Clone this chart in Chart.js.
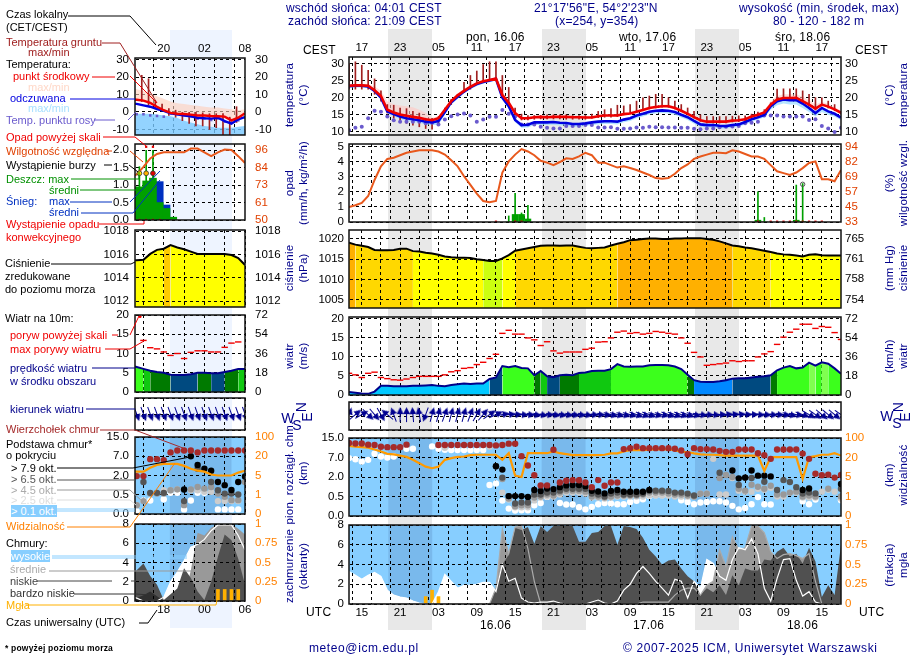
<!DOCTYPE html>
<html lang="pl">
<head>
<meta charset="utf-8">
<title>Meteogram</title>
<script src="https://cdn.jsdelivr.net/npm/chart.js@4/dist/chart.umd.js"></script>
<style>
  html, body { margin: 0; padding: 0; background: #fff; }
  #page { position: relative; width: 910px; height: 660px; overflow: hidden; font: 12px "Liberation Sans", Arial, sans-serif; }
  #page canvas { position: absolute; }
  .band { position: absolute; }
  .txt { position: absolute; white-space: pre; transform: translateY(-50%); letter-spacing: .2px; }
  .rot { position: absolute; white-space: pre; text-align: center; transform: translate(-50%, -50%) rotate(-90deg); color: #00008b; font-size: 11.5px; line-height: 14px; letter-spacing: .2px; }
  svg { position: absolute; left: 0; top: 0; }
</style>
</head>
<body>
<div id="page"></div>
<script>
const _ = null;

// ─── TIME AXES (hours UTC counted from 15.06 00:00) ─────────────
const startHour = 13;
const gridHoursR = [15, 18, 21, 24, 27, 30, 33, 36, 39, 42, 45, 48, 51, 54, 57, 60, 63, 66, 69, 72, 75, 78, 81, 84, 87];
const labelHoursR = [15, 21, 27, 33, 39, 45, 51, 57, 63, 69, 75, 81, 87];
const cestLabelsR = ['17', '23', '05', '11', '17', '23', '05', '11', '17', '23', '05', '11', '17'];
const utcLabelsR = ['15', '21', '03', '09', '15', '21', '03', '09', '15', '21', '03', '09', '15'];
const gridHoursL = [15, 18, 21, 24, 27, 30];
const labelHoursL = [18, 24, 30];
const cestLabelsL = ['20', '02', '08'];
const utcLabelsL = ['18', '00', '06'];
const nightsR = [[19.15, 26.02], [43.15, 50.02], [67.15, 74.02]];
const nightsL = [[18.9, 28]];

// ─── MAIN PANELS (one value per hour) ───────────────────────────
const tempMid = [23.5,23.6,23.6,23.5,22.2,20.5,16.5,15.7,15.1,14.7, 14.4,14.1,13.7,13.4,14,16.5,19,20.7,22,23.2, 24.2,24.8,25.2,25.6,20.8,18.5,15.5,14,14,14.3, 14.4,14.3,14.4,14.4,14.4,14.3,14.3,14.2,14.2,14.6, 14.8,14.8,14.8,15.2,15.4,15.9,16.4,17,17.3,17.5, 17.5,17,16.2,15.3,14.3,13.4,13,13,13,13, 13.3,13.4,13.7,14.5,15,15.7,18,19.5,19.9,19.9, 20,19,18,16.8,18,17.4,16.6,15.6];
const tempFeel = [23.4,23.5,23.5,23.3,22,20,16,15.2,14.5,14, 13.7,13.4,13,12.8,13.2,15.8,18.7,20.3,21.8,23, 24,24.6,25,25.5,20,17.5,13.5,12,12.1,12.8, 12.8,12.8,12.9,12.7,12.6,12.3,12.3,12.5,12.8,13, 13.1,13.1,13,13.6,14,14.8,15.3,15.9,16.2,16.3, 16.2,15.8,15,14.3,13.2,12.2,12,12,11.8,11.7, 12,12.2,12.9,13.7,14.3,15,17.5,19,19.5,19.3, 19.3,18.3,17,15.5,17,16,15.3,14.2];
const tempDew = [10.5,11.2,11.5,14,16.2,15.9,14.5,13.4,13,13, 13,13,12.5,12.7,12.2,13.6,14.6,15.1,15.4,14.8, 13,13.6,14.4,14.4,16.4,15.3,14.4,12.2,12.2,12.2, 11.5,11.2,11,11,11.7,11.7,11.7,12,12,11.3, 11.3,11.4,10.9,10.9,11,11.3,11.2,11.5,11.4,11.4, 11.3,11.3,11.2,11.2,10.9,10.8,11,11,11.4,11.5, 11.6,11.7,12.5,12.7,13,14.8,14.8,14.8,14.5,14.5, 14.5,14.5,13.5,13.7,11.7,11,10,11.2];
const soilMax = [30,30.5,29.5,28,25.5,22,18,17.8,17,16.8, 16,15.5,14,14,14.5,17,19.5,21,24.5,26.5, 27.8,29.7,30.5,30.5,26.5,23,17,15.2,14.8,14.8, 14.8,15,15,15,15,14.8,14.8,14.8,15.2,16, 16.5,16.8,17.8,17.6,18,19,20,20.5,21,21, 20,19,18,17,16,15,14.5,14.5,14.5,14.5, 14.6,14.7,14.7,15.2,15.8,16.5,18.5,22.5,22.6,22.6, 22.6,22,21,20,20,19,18,16];
const soilMin = [22.5,22.5,22.5,22.5,21,19,15.5,14,13.2,12.5, 12,11.5,11,10.8,12.5,16,18,20,21.5,22.5, 24,24.5,25,25,20,18,14.5,13.5,13.5,13.7, 13.8,13.8,13.8,13.8,13.7,13.7,13.7,13.7,14,14.2, 14.3,14.3,14.5,15,15.3,15.8,16.3,16.7,17,17.2, 17.2,16.7,16,15,14,13.1,12.6,12.6,12.6,12.6, 12.9,13,13.3,14,14.5,15.3,17.5,19.2,19.6,19.6, 19.6,18.7,17.6,16.4,17.6,17,16.2,15.2];
const tempTop = [24,24,24,24,23.3,22,19,18,17.7,17.5, 17.2,16.5,15.5,14.2,14.5,17,19.5,21.2,22.6,23.8, 24.6,25.2,25.6,26,22,19,15.8,14.4,14.4,14.7, 14.8,14.7,14.8,14.8,14.8,14.7,14.7,14.6,14.6,15, 15.2,15.2,15.2,15.6,15.8,16.3,16.8,17.4,17.7,18, 18,17.5,16.7,15.8,14.8,13.8,13.4,13.4,13.4,13.4, 13.7,13.8,14.1,14.9,15.4,16.1,19,20.5,21,21, 21,20.3,19.3,18,18.8,18.2,17.3,16.2];
const feelBottom = [23,23,23,22.8,21.5,19.4,15.5,14.5,13.8,13.3, 13,12.7,12.2,12,12,15,18,19.7,21.3,22.5, 23.4,24.1,24.5,25,19.4,16.8,12.8,11.2,11.3,12, 12,12,12.1,11.9,11.8,11.5,11.5,11.7,12,12.2, 12.3,12.3,12.2,12.8,13.2,14,14.5,15.1,15.4,15.5, 15.4,15,14.2,13.5,12.4,11.5,11.3,11.2,11,11, 11.2,11.5,12.2,13,13.6,14.2,16.5,17.8,18.3,18, 18,17,15.8,14.5,15.8,15,14.4,13.4];
const humidity = [45,46.6,48.5,54,67,78,84,85,87,89, 90,91,91,91,90,87.5,83,78,70,63, 56,50,49,50,73,82,87.5,92,90,87, 82.5,81,79,81.5,84.5,84,86,89,87,81, 81,79,77,78,76.6,75,73,71,68.5,68, 68.5,72,76.6,79.5,84,86,87.5,89,89,88.6, 91,90,88,86,86,84,79,74,72.5,71, 73,76.6,80.7,82,67.6,67.6,66,75];
const rainHours = [38, 39, 40, 41, 77, 78, 83, 84];
const rainMean = [0, 0.5, 0.5, 0.2, 0.12, 0, 0.12, 0.03];
const rainMax = [0.4, 1.9, 0.6, 1.1, 2, 0.3, 2.45, 2.55];
const convHours = [36, 39, 40, 77, 79, 80, 81, 82, 83, 84, 85, 86, 87];
const stormHours = [84];
const stormLevel = [2.5];
const pressure = [1019.1,1018.6,1018.3,1018,1017.3,1017.2,1017.2,1017.3,1017.6,1017.6, 1017,1016.9,1016.6,1016.4,1016.1,1015.7,1015.5,1015.4,1015.4,1015.3, 1015,1014.8,1014.6,1014.6,1015.2,1016,1017.1,1017.4,1017.7,1018, 1018.3,1018.4,1018.4,1018.3,1018.4,1018.4,1018.1,1017.8,1017.7,1017.8, 1017.9,1018.4,1018.8,1019.2,1019.7,1019.8,1020,1020.1,1020.1,1020, 1020,1020.1,1020.1,1020.2,1020.2,1020.2,1020,1019.8,1019.4,1018.9, 1018.4,1018.2,1017.9,1017.7,1017.4,1017.1,1016.8,1016.4,1016.2,1016.1, 1015.9,1015.7,1016.1,1016.2,1016,1015.9,1015.9,1015.9];
const windSpeed = [0.8,0.6,0.4,0.3,0.9,2.4,2.4,2.3,2.3,2.3, 2.4,2.4,2.5,2.6,2.4,2.3,2.6,2.8,3,2.9, 3,3,4.2,4.6,7.6,7.3,7.6,7.1,7,5.2, 6.3,4.9,4.7,5.2,5.3,5.2,5.8,5.9,6.3,6.4, 6.4,6.8,8.1,7.5,7.4,7.5,7.5,7.8,7.9,7.9, 7.8,7.5,6.8,5.3,3.9,3.5,3.4,3.4,3.6,3.9, 4.3,4.4,4.4,4.6,4.8,4.9,5.2,6.5,7.2,7.6, 7,7.2,8.5,7.7,8.6,8.2,7,5.6];
const windGust = [5.7,5.3,4.6,5.7,6,4.6,4.3,4,3.9,4.2, 4.6,4.9,4.9,4.9,4.9,5.3,6.1,6.4,7,7.2, 8,8.6,9.6,10.7,16.2,17,16,16,15,14.5, 13,14,11.6,11,11.3,11.3,11.3,12,12.3,13.9, 14,15,16.5,16.8,16.2,16.4,16,16.2,16.7,16.5, 16.2,16,15,13.6,11.2,10,7.8,8,8.2,8.4, 9,8.8,9,9,10,10.8,11.4,13.3,15.2,16.5, 17.3,18.6,18.6,17.5,18,17.8,16.4,14.6];
const windHeading = [20,50,60,135,140,150,310,340,0,0, 355,350,200,15,15,20,15,15,15,20, 30,40,55,65,80,85,90,95,95,100, 100,95,100,100,100,100,100,100,95,95, 100,105,105,105,105,110,110,110,105,105, 110,110,110,110,105,100,95,95,90,85, 85,85,90,90,95,95,95,95,100,105, 100,110,120,125,130,130,130,125];

// Cloud base and visibility are given in steps of their uneven axes (0=0, 1=0.5, 2=2, 3=7, 4=15 km)
const baseTop = [3.74,3.72,3.72,3.66,3.64,3.55,3.53,3.53,3.53,3.66, _,_,_,_,3.64,3.64,3.64,3.64,3.64,3.64, 3.64,3.64,3.64,3.62,3.64,3.71,3.71,3.07,2.59,2.09, 1.57,1.57,3.4,1.72,1.81,1.84,1.83,1.72,1.48,1.84, 1.55,1.72,1.72,3.43,3.48,3.55,3.48,3.48,3.48,3.48, 3.48,3.45,3.36,3.17,3.48,3.43,3.43,3.41,3.34,3.29, 3.29,3.41,3.41,3.41,3.22,3.12,2.93,3.41,3.41,3.41, 3.41,3.2,2.93,2.17,2.09,2.12,1.97,2.1];
const base79 = [_,_,_,_,_,_,_,_,_,_, _,_,_,_,_,_,_,_,_,_, _,_,_,2.55,2.38,1.02,1.02,1.02,0.98,1.33, 1.28,1.41,1.38,1.48,1.57,1.59,1.59,1.53,1.29,1.26, 1.16,1.29,1.33,1.24,1.24,1.24,1.24,1.33,_,_, _,_,_,_,_,_,_,_,_,_, 2.33,1.93,1.97,2.33,2.07,2.07,2.03,_,_,_, _,1.33,1.41,_,_,_,_,1.64];
const base65 = [_,_,_,_,_,_,_,_,_,_, _,_,_,_,_,_,_,_,_,_, _,_,_,2.55,1.97,1.02,0.64,0.69,0.69,1.1, 1.1,1.2,1.2,1.3,1.4,1.4,1.4,1.4,1.15,1.1, 1,1.15,1.2,1.1,1.1,1.1,1.15,1.3,1.3,1.3, 1.28,1.2,1.2,1.15,1.05,_,_,_,2.22,_, _,1.59,1.97,1.95,_,1.76,_,1.33,1.84,1.74, 1.48,1.15,1.2,1.16,_,_,_,1.4];
const base45 = [_,_,_,_,_,_,_,_,_,_, _,_,_,_,_,_,_,_,_,_, _,_,_,_,1.9,0.9,0.5,0.55,0.55,0.95, 1,1.1,1.05,1.2,1.3,1.3,1.3,1.25,1,1, 0.95,1,1.05,1.05,1.05,1.05,1.1,1.2,1.2,1.2, 1.15,1.1,1.1,1.05,1,1.15,1.15,_,1.95,2.1, 2,1.4,1.3,1.6,1.5,1.4,1.55,1.1,1.1,1.2, 1.25,1,1.05,1,_,1.4,_,1];
const base25 = [_,_,_,_,_,_,_,_,_,_, _,_,_,_,_,3.5,_,_,_,_, _,_,3.55,_,1.2,0.85,0.45,0.45,0.45,0.8, 0.95,1,1,1.1,1.2,1.2,1.2,1.15,0.95,0.95, 0.9,0.95,1,1,1,1,1,1.05,1.05,1.05, 1.05,1,1,1,1,1.15,1.15,2.93,1.1,1.1, 1.95,1.3,1.25,1.25,1.4,1.35,1.45,1,1,1.2, 1.2,0.95,0.95,0.95,1.25,1.35,1.25,0.9];
const base01 = [2.97,2.91,2.79,2.88,3.19,3.05,3,3.05,_,3.45, 3.45,_,_,3.57,3.45,3.4,3.38,3.38,3.38,3.38, 3.38,3.38,1.59,1.67,0.79,0.38,0.28,0.29,0.29,0.55, 0.67,0.98,1.03,0.67,0.59,0.59,0.45,0.34,0.47,0.6, 0.67,0.64,0.6,0.6,0.72,0.78,0.86,1.03,1.07,1.07, 1.07,1.07,0.81,0.72,0.6,0.69,0.72,0.76,0.76,0.69, 0.52,0.34,0.41,0.6,0.97,0.6,0.59,1.07,_,_, _,0.76,0.6,0.84,_,_,_,0.81];
const visibility = [3.59,3.55,3.53,3.5,3.41,3.31,3.19,3.16,3.1,3.03, 2.88,2.71,2.53,2.45,2.53,2.88,2.97,3.03,3.05,3.12, 3.14,3.14,3.14,3.14,2.88,3.22,2.07,2,3.22,3.22, 3.22,3.22,3.31,3.22,3.17,3.12,3.12,3.12,3.12,3.12, 3.14,3.21,3.21,3.31,3.38,3.38,3.38,3.4,3.41,3.41, 3.41,3.38,3.29,3.28,3.21,3.16,3.14,3.14,3.12,3.1, 3.1,3.1,3.1,3.1,3.1,2.31,3.02,3.02,3.02,3.02, 3.02,1.9,3.02,3.07,3.14,3.14,3.22,3.1];
const cloudHigh = [3.3,2.9,2.5,2.9,3.2,2.8,1.4,0.9,0.7,0.6, 0.3,0.1,0,0,1.25,3,2.3,1.6,1.9,1.9, 2,2.2,2.2,1.25,4,2.3,2.6,0.6,0.2,0.1, 0.2,0.2,0.3,0.1,0,0,0,0,0.2,0.4, 0.1,0,0.3,1.4,2,3.1,3.8,3.1,2.3,1.6, 0.9,2.5,2.3,0.6,2.3,1.6,4.5,4.1,2.8,2.4, 4.5,5.7,5.5,6.6,5.1,1.6,0.3,2.6,4.5,4.6, 2.4,0.8,1.25,0.2,0,0,0,0];
const cloudMid = [0,0,0,0,0,0,0,0,0,0, 0,0,0,0,0,0,0,0,0,0, 0,0,0,1.6,7.6,5.1,7.8,7.9,5.6,2.3, 0,0,0,0,0,0,0,0,0,0, 0,0,0,0,0,0,0.2,0.2,0.2,0.2, 0.2,0.9,1.4,1.6,1.6,0.9,1.9,2.3,5.5,3.8, 6.8,5.5,5.7,7.9,7.9,7.2,5.3,4.6,5,5.1, 4.9,4.6,5.1,2.3,0,0,0,0];
const cloudLow = [0,0,0,0,0,0,0,0,0,0, 0,0,0,0,0,0,0,0,0,0, 0,0,0,1.6,4,5,7.7,7.5,7.8,6.1, 7.9,7.3,7.9,7.9,7.9,7.9,6.3,6.3,7.2,7.3, 7.9,7.9,6,7.9,7.8,7.6,6.7,5.5,4.8,4, 4.4,4.5,3.6,2.8,2.3,0.9,1.6,1.2,1.9,0.9, 2.9,1.9,3.6,3.4,3.4,4.5,4.4,5.3,5.7,4.8, 5.1,4.1,5.7,4.3,0.7,1.9,0.9,6];
const fogHours = [25, 26, 27];
const fogLevel = [0.75, 1.4, 0.75];

// ─── LEGEND PANELS (sample curves, left column) ─────────────────
const soilStartL = 14.75;
const tempMidL = [7.2,7,6.5,5.2,3,1,-0.5,-1,-1.2,-1.5,-2,-2,-2.3,-2.5,-2.7,-4.8,-3.3,-0.8];
const tempFeelL = [4.8,4.6,3.8,3,1.7,0.6,-0.8,-1.3,-2,-2.5,-3.3,-3.6,-3.8,-3.3,-5.2,-6.7,-4.2,-2.9];
const tempDewL = [-1.3,-1.3,-1.3,-2,-2.3,-2.7,-0.8,-1.3,-1.7,-2.5,-3.8,-3.6,-4.6,-3.6,-5.5,-5.5,-4.8,-3.3];
const tempTopL = [14,13,12,10.5,9,7.5,6,5,4.5,4,3.5,3,2.5,2.5,2,1.5,1,1.5];
const feelTopL = [-1,-1,-1,-1,-1.5,-2,-2.5,-3.5,-5,-6,-7,-8,-8.5,-9,-9,-9,-8.5,-8];
const soilMaxL = [21,19,6.5,4.5,2,1,0,0,0,-0.5,-1,-1,-1,-3,3];
const soilMinL = [6,4,2,1,-2,-3,-5,-6.5,-8,-8,-10,-9,-13,-13,-6];
const humidityL = [78,80,85,90.5,93.4,94.5,94.5,94.5,94.5,97,97,94.5,92,94.5,96.3,96,92,87.5];
const rainHoursL = [13.4, 14.4, 15.4, 16.4, 17.4, 18.4, 19.4];
const rainMeanL = [0.95, 0.95, 1.12, 1.2, 0.5, 0.33, 0.08];
const snowMeanL = [_, _, _, _, 1.1, 0.43, _];
const rainMaxHoursL = [14.4, 15.4, 16.4];
const rainMaxL = [1.53, 2, 2];
const stormLevelL = [1.34, 1.34, 1.34];
const overHoursL = [15.4, 16.4];
const overLevelL = [2.1, 2.1];
const convHoursL = [14.4, 15.4, 16.4, 17.4];
const pressureL = [1015.5,1015.5,1015.55,1016.05,1016.4,1016.5,1016.8,1016.6,1016.45,1016.25,1016.05,1016.05,1016.05,1016.05,1016.05,1015.95,1015.7,1015.1];
const windSpeedL = [7,6.5,6,5.5,5.2,5,4.5,4.4,4.4,4.6,5,5,4.9,4.9,5.2,5.5,6,6];
const windGustL = [_,_,13.4,11.5,11.2,10.4,9.5,10,8.7,10.3,10.7,10.7,10.4,10.4,11.6,12.7,13,_];
const windOverHoursL = [14.5];
const windOverL = [19.6];
const windHeadingL = [160,160,160,160,160,160,160,160,160,160,160,160,160,160,160,160,160,160];
const baseTopL = [_,1.97,1.97,2.85,2.85,2.8,3.2,3.3,3.3,3.3,3.2,3.3,3.3,3.3,3.3,3.3,3.3,3.3];
const base79L = [_,_,_,_,_,_,_,_,1.27,3,2.55,2.35,2.25,1.66,1.5,1.25,1.66,1.95];
const base65L = [_,_,1.66,1.1,1.1,1.1,_,_,0.67,_,2.35,_,1.66,1.23,1.06,1.06,1.01,_];
const base45L = [_,0.46,0.67,1.06,1.06,1.06,1.23,1.28,0.46,1.28,1.4,1.32,1.4,1.06,0.89,0.72,0.72,1.66];
const base25L = [_,0.46,_,_,_,1.23,1.23,1.28,_,1.23,1.23,1.15,1.15,0.67,0.67,0.67,0.67,_];
const base01L = [_,0.15,0.7,0.7,_,0.77,1.1,1.1,0.24,0.7,1.1,1.1,_,0.24,0.24,0.24,0.24,_];
const visibilityL = [2.2,2.2,2.2,2.4,2.55,2.6,2.6,2.6,2.5,2.35,2.25,2.2,2.05,2,2,2,2.15,2.25];
const cloudHighL = [0.5,0.3,0,0,0,0.4,2,3,4.2,5.6,5.9,6.4,7.3,7.9,7.9,7.9,6.8,5.3];
const cloudMidL = [0,0,0,0,0,0,0,0,0.2,3.2,7.1,6.8,7.6,8,8,8,7.5,6.9];
const cloudLowL = [3,3.2,3.9,2.6,1.7,0.1,0.7,1.3,3.4,2.4,1,0.1,2,4.6,6.9,6.3,4.4,1.7];
const cloudVeryLowL = [0,0.3,0.6,1,0.5,0,0,0,0,0,0,0,0,0,0,0,0,0];
const fogHoursL = [26, 27, 28, 29];
const fogLevelL = [1.2, 1.2, 1.2, 1.2];

// ─── TICKS ──────────────────────────────────────────────────────
const baseLabels = ['0.0', '0.5', '2.0', '7.0', '15.0'];
const visLabels = ['0', '1', '5', '20', '100'];
const fogLabels = ['0', '0.25', '0.5', '0.75', '1'];

// ─── TEXTS ──────────────────────────────────────────────────────
const navy = '#00008b';
const texts = [
  ['Czas lokalny', 6, 14, '#000'], ['(CET/CEST)', 6, 27, '#000'],
  ['Temperatura gruntu', 6, 42, '#a02020'], ['max/min', 28, 52, '#a02020'], ['Temperatura:', 6, 64, '#000'],
  ['punkt środkowy', 13, 76, '#f00000'], ['max/min', 28, 87, '#ffd8c8'], ['odczuwana', 10, 98, '#0000e0'],
  ['max/min', 28, 108, '#a8e0ff'], ['Temp. punktu rosy', 6, 120, '#6a5acd'],
  ['Opad powyżej skali', 6, 137, '#f00000'], ['Wilgotność względna', 6, 151, '#e04000'], ['Wystąpienie burzy', 6, 165, '#000'],
  ['Deszcz: max', 6, 179, '#009000'], ['średni', 49, 190, '#009000'], ['Śnieg:', 6, 201, '#0030c0'], ['max', 49, 201, '#0030c0'],
  ['średni', 49, 212, '#0030c0'], ['Wystąpienie opadu', 6, 224, '#f00000'], ['konwekcyjnego', 6, 237, '#f00000'],
  ['Ciśnienie', 5, 263, '#000'], ['zredukowane', 5, 276, '#000'], ['do poziomu morza', 5, 289, '#000'],
  ['Wiatr na 10m:', 5, 318, '#000'], ['poryw powyżej skali', 10, 335, '#f00000'], ['max porywy wiatru', 10, 349, '#f00000'],
  ['prędkość wiatru', 10, 368, navy], ['w środku obszaru', 10, 381, navy], ['kierunek wiatru', 10, 409, navy],
  ['Wierzchołek chmur', 6, 429, '#a52a2a'], ['Podstawa chmur*', 6, 444, '#000'], ['o pokryciu', 6, 455, '#000'],
  ['> 7.9 okt.', 11, 468, '#000'], ['> 6.5 okt.', 11, 479, '#555'], ['> 4.5 okt.', 11, 490, '#aaa'], ['> 2.5 okt.', 11, 500, '#ddd'],
  ['> 0.1 okt.', 11, 511, '#fff', '#87ceff'], ['Widzialność', 6, 526, '#ff8000'], ['Chmury:', 6, 543, '#000'],
  ['wysokie', 11, 556, '#fff', '#87ceff'], ['średnie', 10, 569, '#aaa'], ['niskie', 10, 581, '#444'], ['bardzo niskie', 10, 593, '#333'],
  ['Mgła', 6, 605, '#ffb000'], ['Czas uniwersalny (UTC)', 6, 622, '#000'],
  ['wschód słońca: 04:01 CEST', 286, 8, navy], ['zachód słońca: 21:09 CEST', 288, 21, navy],
  ['21°17\'56"E, 54°2\'23"N', 534, 8, navy], ['(x=254, y=354)', 555, 21, navy],
  ['wysokość (min, środek, max)', 739, 8, navy], ['80 - 120 - 182 m', 773, 21, navy],
  ['pon, 16.06', 466, 37, '#000'], ['wto, 17.06', 619, 37, '#000'], ['śro, 18.06', 775, 37, '#000'],
  ['CEST', 303, 50, '#000'], ['CEST', 855, 50, '#000'], ['UTC', 306, 612, '#000'], ['UTC', 859, 612, '#000'],
  ['16.06', 480, 625, '#000'], ['17.06', 633, 625, '#000'], ['18.06', 787, 625, '#000'],
  ['meteo@icm.edu.pl', 309, 648, navy, _, 0.6], ['© 2007-2025 ICM, Uniwersytet Warszawski', 623, 648, navy, _, 0.6],
];
const rotated = [
  ['temperatura\n(°C)', 296, 95], ['(°C)\ntemperatura', 896, 95],
  ['opad\n(mm/h, kg/m²/h)', 296, 183], ['(%)\nwilgotność wzgl.', 896, 183],
  ['ciśnienie\n(hPa)', 296, 268], ['(mm Hg)\nciśnienie', 896, 268],
  ['wiatr\n(m/s)', 296, 356], ['(km/h)\nwiatr', 896, 356],
  ['pion. rozciągł. chm.\n(km)', 296, 473], ['(km)\nwidzialność', 896, 475],
  ['zachmurzenie\n(oktanty)', 296, 566], ['(frakcja)\nmgła', 896, 565],
];
const compass = [['W', 288, 418, 0], ['N', 301, 407, -90], ['S', 297, 425, 0], ['E', 307, 417, -90],
  ['W', 887, 416, 0], ['N', 898, 407, -90], ['S', 897, 423, 0], ['E', 905, 417, -90]];
const leaders = [
  ['#000', [68,16, 130,16, 156,45]], ['#a02020', [102,43, 120,43, 157,103]], ['#f00000', [92,77, 115,77]], ['#f00000', [130,76, 157,103]],
  ['#0000e0', [70,99, 135,99]], ['#6a5acd', [94,120, 115,120]], ['#6a5acd', [128,120, 136,112]],
  ['#f00000', [103,137, 135,137, 146,146]], ['#e04000', [106,151, 112,151]], ['#e04000', [130,151, 143,162]],
  ['#000', [104,165, 112,165]], ['#000', [129,165, 138,172]], ['#009000', [71,179, 139,179, 139,172]], ['#009000', [80,190, 143,190]],
  ['#0030c0', [70,202, 112,202]], ['#0030c0', [130,202, 160,171]], ['#0030c0', [81,213, 133,213, 160,180]],
  ['#f00000', [99,224, 144,224, 144,221]], ['#000', [51,264, 131,264, 135,262]],
  ['#f00000', [112,335, 118,335]], ['#f00000', [130,335, 139,316]], ['#f00000', [105,349, 130,349, 144,341]],
  [navy, [92,368, 135,368]], [navy, [86,409, 135,409]], ['#a52a2a', [100,430, 135,430, 183,448]],
  ['#000', [57,468, 133,468, 190,457]], ['#555', [57,480, 135,480]], ['#999', [57,490, 130,490, 143,502]], ['#ddd', [57,500, 130,500, 136,505]],
  ['#87ceff', [55,509, 135,509]], ['#87ceff', [55,511, 135,511]], ['#ff8000', [67,527, 130,527, 175,463]],
  ['#87ceff', [52,556, 187,556]], ['#87ceff', [52,558, 187,558]], ['#999', [49,571, 193,571]],
  ['#444', [37,581, 112,581]], ['#444', [131,581, 136,581]], ['#333', [74,594, 136,594, 150,595]],
  ['#ffb000', [26,605, 216,605, 219,590]], ['#000', [139,623, 148,623, 157,610]],
];

// ─── HELPERS ────────────────────────────────────────────────────
const page = document.getElementById('page');
Chart.defaults.font.family = "'Liberation Sans', Arial, sans-serif";
Chart.defaults.font.size = 11.5;
Chart.defaults.color = '#000';

function series(values, start = startHour) {
  return values.map((y, i) => ({ x: start + i, y }));
}
function zip(hours, values) {
  return hours.map((x, i) => ({ x, y: values[i] }));
}
function floats(lows, highs, start) {
  return lows.map((low, i) => ({ x: start + i, y: [low, highs[i]] }));
}

function pressureColor(p) {
  if (p < 1014.9) return '#ccff10';
  if (p < 1017.05) return '#ffff00';
  if (p < 1018.7) return '#ffd800';
  return '#ffb000';
}
function windColor(v) {
  if (v < 3.3) return '#00c8ff';
  if (v < 4.2) return '#0088ff';
  if (v < 4.95) return '#004a80';
  if (v < 5.7) return '#007a00';
  if (v < 6.5) return '#10c810';
  if (v < 8.3) return '#3cff1c';
  return '#80ff50';
}

const arrowImg = document.createElement('canvas');
arrowImg.width = arrowImg.height = 17;
(function () {
  const c = arrowImg.getContext('2d');
  c.strokeStyle = c.fillStyle = '#000090';
  c.lineWidth = 1;
  c.beginPath(); c.moveTo(8.5, 16); c.lineTo(8.5, 4); c.stroke();
  c.beginPath(); c.moveTo(8.5, 1); c.lineTo(5, 8); c.lineTo(12, 8); c.closePath(); c.fill();
})();

const pad = 24;
function panel(cfg) {
  const { l, t, w, h } = cfg.box;
  const side = 44;
  const canvas = document.createElement('canvas');
  canvas.width = w + side * 2;
  canvas.height = h + pad * 2;
  canvas.style.left = (l - side) + 'px';
  canvas.style.top = (t - pad) + 'px';
  page.appendChild(canvas);

  const frame = {
    id: 'frame',
    beforeDraw(chart) {
      const a = chart.chartArea, c = chart.ctx;
      if (!cfg.sky) return;
      c.save();
      c.fillStyle = '#87ceff';
      c.fillRect(a.left, a.top, a.width, a.height);
      c.fillStyle = 'rgba(0,0,70,0.1)';
      cfg.nights.forEach(([a0, a1]) => {
        const x0 = chart.scales.x.getPixelForValue(a0), x1 = chart.scales.x.getPixelForValue(a1);
        c.fillRect(x0, a.top, x1 - x0, a.height);
      });
      c.restore();
    },
    afterDraw(chart) {
      const a = chart.chartArea, c = chart.ctx;
      c.save();
      c.strokeStyle = '#111';
      c.lineWidth = 1.5;
      c.strokeRect(a.left, a.top, a.width, a.height);
      c.restore();
    },
  };

  const xAxis = (position, labels) => ({
    type: 'linear', position, min: cfg.xMin, max: cfg.xMax, offset: false,
    grid: position === 'bottom'
      ? { color: '#000', lineWidth: 1, z: cfg.gridOnTop ? 1 : -1, drawTicks: false }
      : { display: false, drawTicks: false },
    border: { display: position === 'bottom', dash: [3, 3], color: 'rgba(0,0,0,0)' },
    ticks: {
      display: !!labels, autoSkip: false, maxRotation: 0, minRotation: 0, padding: 2, color: '#000',
      callback: (v) => (labels ? (labels[cfg.labelHours.indexOf(v)] ?? '') : ''),
    },
    afterBuildTicks: (s) => { s.ticks = cfg.gridHours.map((value) => ({ value })); },
    afterFit: (s) => { s.height = pad; },
  });
  const yAxis = (position, a) => ({
    type: 'linear', position, min: a.min, max: a.max,
    grid: position === 'left'
      ? { color: '#000', lineWidth: 1, z: cfg.gridOnTop ? 1 : -1, drawTicks: false }
      : { display: false, drawTicks: false },
    border: { display: position === 'left', dash: [3, 3], color: 'rgba(0,0,0,0)' },
    ticks: {
      display: !!a.ticks, autoSkip: false, padding: position === 'left' ? cfg.padL : cfg.padR,
      color: a.color || '#000',
      callback: (v, i) => (a.labels ? a.labels[i] : v),
    },
    afterBuildTicks: (s) => { if (a.ticks) s.ticks = a.ticks.map((value) => ({ value })); },
    afterFit: (s) => { s.width = side; },
  });

  return new Chart(canvas, {
    type: 'line',
    data: { datasets: cfg.datasets },
    options: {
      responsive: false,
      animation: false,
      events: [],
      layout: { padding: 0, autoPadding: false },
      elements: { point: { radius: 0 }, line: { tension: 0, borderWidth: 2 } },
      plugins: { legend: { display: false }, tooltip: { enabled: false } },
      scales: {
        x: xAxis('bottom', cfg.bottomLabels),
        xTop: xAxis('top', cfg.topLabels),
        y: yAxis('left', cfg.y),
        y1: yAxis('right', cfg.y1),
      },
    },
    plugins: [frame],
  });
}

const line = (data, color, width = 2, extra = {}) => ({ data, borderColor: color, borderWidth: width, fill: false, ...extra });
const area = (data, color, extra = {}) => ({ data, borderWidth: 0, backgroundColor: color, fill: 'start', ...extra });
const dots = (data, color, radius = 3.2, extra = {}) => ({ data, showLine: false, pointRadius: radius, pointBackgroundColor: color, pointBorderWidth: 0, ...extra });
const dashes = (data, color, radius) => ({ data, showLine: false, pointStyle: 'line', pointRadius: radius, pointBorderColor: color, pointBorderWidth: 1.4 });
const bars = (data, color, thickness) => ({ type: 'bar', data, backgroundColor: color, barThickness: thickness, grouped: false, borderWidth: 0 });
const arrows = (data, headings) => ({ data, showLine: false, pointStyle: arrowImg, pointRadius: 8, rotation: headings });

// x windows and tick padding of the two columns
const colR = { xMin: 13, xMax: 90, gridHours: gridHoursR, labelHours: labelHoursR, nights: nightsR, padL: 5, padR: 4 };
const colL = { xMin: 13.75, xMax: 30, gridHours: gridHoursL, labelHours: labelHoursL, nights: nightsL, padL: 6, padR: 10 };
const L = 135, LW = 110, R = 349, RW = 492;

// ─── BACKGROUND BANDS ───────────────────────────────────────────
function band(x0, x1, y0, y1, color) {
  const d = document.createElement('div');
  d.className = 'band';
  d.style.cssText = `left:${x0}px;width:${x1 - x0}px;top:${y0}px;height:${y1 - y0}px;background:${color}`;
  page.appendChild(d);
}
const hourToPx = (t) => R + (t - colR.xMin) * RW / (colR.xMax - colR.xMin);
nightsR.forEach(([a, b]) => band(hourToPx(a), hourToPx(b), 29, 630, '#e8e8e8'));
band(170, 232, 30, 628, '#eef4ff');

// ─── RIGHT COLUMN ───────────────────────────────────────────────
panel({ ...colR, box: { l: R, t: 57, w: RW, h: 78 }, topLabels: cestLabelsR,
  y: { min: 9.1, max: 31.9, ticks: [10, 15, 20, 25, 30] }, y1: { min: 9.1, max: 31.9, ticks: [10, 15, 20, 25, 30] },
  datasets: [
    line(series(tempMid), '#f00000', 2.6),
    line(series(tempFeel), '#0000e0', 2.6),
    dots(series(tempDew), '#6a5acd', 2),
    bars(floats(soilMin, soilMax, startHour), '#a02020', 1),
    area(series(tempTop), 'rgba(255,200,195,0.6)', { fill: 0 }),
    area(series(feelBottom), 'rgba(150,215,255,0.7)', { fill: 1 }),
  ] });

panel({ ...colR, box: { l: R, t: 144, w: RW, h: 78 },
  y: { min: 0, max: 5.17, ticks: [0, 1, 2, 3, 4, 5] },
  y1: { min: 33, max: 96.07, ticks: [33, 45.2, 57.4, 69.6, 81.8, 94], labels: ['33', '45', '57', '69', '82', '94'], color: '#e04000' },
  datasets: [
    dots(zip(stormHours, stormLevel), 'rgba(0,0,0,0)', 2.2, { pointBorderWidth: 1, pointBorderColor: '#555' }),
    dots(zip(convHours, convHours.map(() => 0.02)), '#e00000', 1.6, { pointStyle: 'rect' }),
    line(series(humidity), '#e8581c', 2, { yAxisID: 'y1' }),
    bars(zip(rainHours, rainMax), '#00a000', 1),
    bars(zip(rainHours, rainMean), '#00a000', 6),
  ] });

panel({ ...colR, box: { l: R, t: 230, w: RW, h: 78 }, gridOnTop: true,
  y: { min: 1003, max: 1022.2, ticks: [1005, 1010, 1015, 1020] },
  y1: { min: 752.3, max: 766.7, ticks: [753.8, 757.6, 761.3, 765], labels: ['754', '758', '761', '765'] },
  datasets: [
    line(series(pressure), '#000', 2),
    area(series(pressure), '#ffff00', { segment: { backgroundColor: (c) => pressureColor(c.p0.parsed.y) } }),
  ] });

panel({ ...colR, box: { l: R, t: 317, w: RW, h: 78 },
  y: { min: 0, max: 20.5, ticks: [0, 5, 10, 15, 20] },
  y1: { min: 0, max: 73.8, ticks: [0, 18, 36, 54, 72] },
  datasets: [
    dashes(series(windGust), '#f00000', 3.2),
    line(series(windSpeed), '#00008b', 2),
    area(series(windSpeed), '#00c8ff', { segment: { backgroundColor: (c) => windColor(c.p0.parsed.y) } }),
  ] });

panel({ ...colR, box: { l: R, t: 402, w: RW, h: 28 },
  y: { min: 0, max: 2 }, y1: { min: 0, max: 2 },
  datasets: [arrows(series(windHeading.map(() => 1.1)), windHeading)] });

panel({ ...colR, box: { l: R, t: 438, w: RW, h: 78 }, sky: true,
  y: { min: 0, max: 4, ticks: [0, 1, 2, 3, 4], labels: baseLabels },
  y1: { min: 0, max: 4, ticks: [0, 1, 2, 3, 4], labels: visLabels, color: '#ff8000' },
  datasets: [
    dots(series(baseTop), '#a52a2a'),
    line(series(visibility), '#ff9a00', 2.2),
    dots(series(base79), '#000'),
    dots(series(base65), '#555'),
    dots(series(base45), '#999'),
    dots(series(base25), '#ccc'),
    dots(series(base01), '#fff'),
  ] });

panel({ ...colR, box: { l: R, t: 525, w: RW, h: 79 }, sky: true, gridOnTop: true, bottomLabels: utcLabelsR,
  y: { min: 0, max: 8, ticks: [0, 2, 4, 6, 8] },
  y1: { min: 0, max: 8, ticks: [0, 2, 4, 6, 8], labels: fogLabels, color: '#ff8000' },
  datasets: [
    line(series(cloudHigh), '#fff', 1.2),
    line(series(cloudMid), '#aaa', 1.2),
    bars(zip(fogHours, fogLevel), '#ffb000', 3),
    area(series(cloudLow), '#505050'),
    area(series(cloudMid), '#999'),
    area(series(cloudHigh), '#fff'),
  ] });

// ─── LEFT COLUMN (legend) ───────────────────────────────────────
panel({ ...colL, box: { l: L, t: 57.5, w: LW, h: 77 }, topLabels: cestLabelsL,
  y: { min: -13.2, max: 30.9, ticks: [-10, 0, 10, 20, 30] }, y1: { min: -13.2, max: 30.9, ticks: [-10, 0, 10, 20, 30] },
  datasets: [
    line(series(tempMidL), '#f00000', 2.4),
    line(series(tempFeelL), '#0000e0', 2.4),
    dots(series(tempDewL), '#6a5acd', 1.8, { pointStyle: 'rect' }),
    bars(floats(soilMinL, soilMaxL, soilStartL), '#a02020', 1),
    area(series(tempTopL), 'rgba(255,205,185,0.6)', { fill: 0 }),
    area(series(feelTopL), 'rgba(120,200,255,0.8)'),
  ] });

panel({ ...colL, box: { l: L, t: 144, w: LW, h: 76 },
  y: { min: 0, max: 2.18, ticks: [0, 0.5, 1, 1.5, 2], labels: ['0.0', '0.5', '1.0', '1.5', '2.0'] },
  y1: { min: 50, max: 100, ticks: [50, 61, 73, 84, 96], color: '#e04000' },
  datasets: [
    dots(zip(overHoursL, overLevelL), '#e00000', 1.6, { pointStyle: 'rect' }),
    dots(zip(rainMaxHoursL, stormLevelL), ['#ffe000', '#ffb000', '#e00000'], 2.4, { pointBorderWidth: 0.8, pointBorderColor: '#333' }),
    dots(zip(convHoursL, convHoursL.map(() => 0.01)), '#e00000', 1.2, { pointStyle: 'rect' }),
    line(series(humidityL), '#e8581c', 2, { yAxisID: 'y1' }),
    bars(zip(rainMaxHoursL, rainMaxL), '#00a000', 1),
    bars(zip(rainHoursL, rainMeanL), '#00a000', 7),
    bars(zip(rainHoursL, snowMeanL), '#0030c0', 7),
  ] });

panel({ ...colL, box: { l: L, t: 229.7, w: LW, h: 77 }, gridOnTop: true,
  y: { min: 1011.5, max: 1018.1, ticks: [1012, 1014, 1016, 1018] },
  y1: { min: 1011.5, max: 1018.1, ticks: [1012, 1014, 1016, 1018] },
  datasets: [
    line(series(pressureL), '#000', 2),
    area(series(pressureL), '#ffff00', { segment: { backgroundColor: (c) => (c.p1.parsed.y > 1016.7 ? '#ffcc00' : '#ffff00') } }),
  ] });

panel({ ...colL, box: { l: L, t: 315, w: LW, h: 77 },
  y: { min: 0, max: 20, ticks: [0, 5, 10, 15, 20] },
  y1: { min: 0, max: 72, ticks: [0, 18, 36, 54, 72] },
  datasets: [
    dots(zip(windOverHoursL, windOverL), '#f00000', 1.5),
    dashes(series(windGustL), '#f00000', 3.2),
    line(series(windSpeedL), '#00008b', 2),
    area(series(windSpeedL), '#004a80', { segment: { backgroundColor: (c) => windColor(c.p0.parsed.y) } }),
  ] });

panel({ ...colL, box: { l: L, t: 398, w: LW, h: 32 },
  y: { min: 0, max: 2 }, y1: { min: 0, max: 2 },
  datasets: [arrows(series(windHeadingL.map(() => 1)), windHeadingL)] });

panel({ ...colL, box: { l: L, t: 436.7, w: LW, h: 77.3 }, sky: true,
  y: { min: 0, max: 4, ticks: [0, 1, 2, 3, 4], labels: baseLabels },
  y1: { min: 0, max: 4, ticks: [0, 1, 2, 3, 4], labels: visLabels, color: '#ff8000' },
  datasets: [
    dots(series(baseTopL), '#a52a2a'),
    line(series(visibilityL), '#ff9a00', 2.2),
    dots(series(base79L), '#000'),
    dots(series(base65L), '#555'),
    dots(series(base45L), '#999'),
    dots(series(base25L), '#ccc'),
    dots(series(base01L), '#fff'),
  ] });

panel({ ...colL, box: { l: L, t: 523.7, w: LW, h: 77.3 }, sky: true, gridOnTop: true, bottomLabels: utcLabelsL,
  y: { min: 0, max: 8, ticks: [0, 2, 4, 6, 8] },
  y1: { min: 0, max: 8, ticks: [0, 2, 4, 6, 8], labels: fogLabels, color: '#ff8000' },
  datasets: [
    line(series(cloudHighL), '#fff', 1.2),
    bars(zip(fogHoursL, fogLevelL), '#ffb000', 3),
    area(series(cloudVeryLowL), '#303030'),
    area(series(cloudLowL), '#505050'),
    area(series(cloudMidL), '#999'),
    area(series(cloudHighL), '#fff'),
  ] });

// ─── TEXT AND LEADER LINES ──────────────────────────────────────
const svg = document.createElementNS('http://www.w3.org/2000/svg', 'svg');
svg.setAttribute('width', 910);
svg.setAttribute('height', 660);
leaders.forEach(([color, pts]) => {
  const p = document.createElementNS('http://www.w3.org/2000/svg', 'polyline');
  p.setAttribute('points', pts.join(' '));
  p.setAttribute('fill', 'none');
  p.setAttribute('stroke', color);
  svg.appendChild(p);
});
page.appendChild(svg);

texts.forEach(([text, x, y, color, bg, spacing]) => {
  const s = document.createElement('span');
  s.className = 'txt';
  s.textContent = text;
  const leftColumn = x < 130;
  s.style.cssText = `left:${x}px;top:${y}px;color:${color};`
    + (leftColumn ? 'font-size:11px;letter-spacing:0;' : '')
    + (spacing ? `letter-spacing:${spacing}px;` : '')
    + (bg ? `background:${bg};` : '');
  page.appendChild(s);
});
rotated.forEach(([text, x, y]) => {
  const s = document.createElement('span');
  s.className = 'rot';
  s.textContent = text;
  s.style.left = x + 'px';
  s.style.top = y + 'px';
  page.appendChild(s);
});
compass.forEach(([text, x, y, angle]) => {
  const s = document.createElement('span');
  s.className = 'txt';
  s.textContent = text;
  s.style.cssText = `left:${x}px;top:${y}px;color:${navy};font-size:14px;transform:translate(-50%,-50%) rotate(${angle}deg)`;
  page.appendChild(s);
});
const note = document.createElement('span');
note.className = 'txt';
note.textContent = '* powyżej poziomu morza';
note.style.cssText = 'left:5px;top:648px;color:#000;font-size:8.5px;font-weight:bold';
page.appendChild(note);
</script>
</body>
</html>
